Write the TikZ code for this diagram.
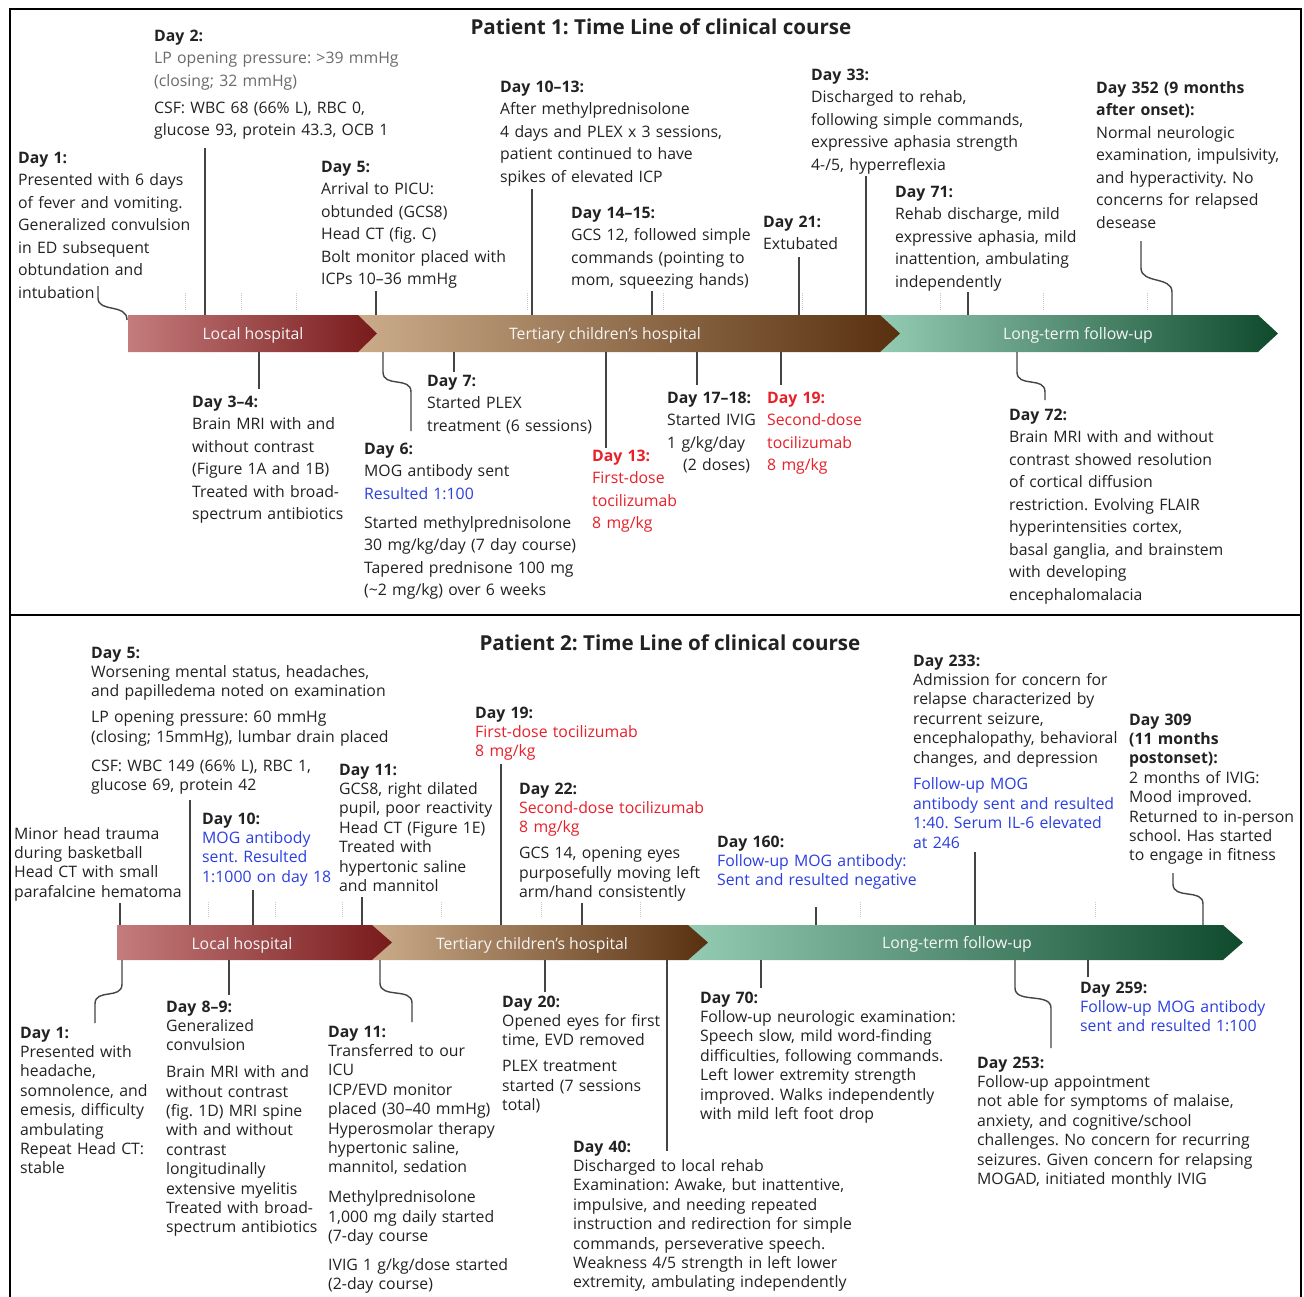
\documentclass[tikz,border=0pt]{standalone}
\usepackage{fontspec}
\setmainfont{Open Sans}
\definecolor{tx}{HTML}{222222}
\definecolor{gr}{HTML}{6B6B6B}
\definecolor{rd}{HTML}{E8202A}
\definecolor{bl}{HTML}{2B3FE0}
\definecolor{ln}{HTML}{444444}
\definecolor{redA}{HTML}{C47C7C}
\definecolor{redB}{HTML}{781A1C}
\definecolor{tanA}{HTML}{CBAC8A}
\definecolor{tanB}{HTML}{583010}
\definecolor{grnA}{HTML}{93CBB3}
\definecolor{grnB}{HTML}{0F4A2D}
\frenchspacing
\begin{document}
\begin{tikzpicture}[x=1pt,y=-1pt,
  pa/.style={anchor=base west, inner sep=0pt, text width=330pt, align=left, text=tx, font=\fontsize{15.8}{22.5}\selectfont},
  pb/.style={anchor=base west, inner sep=0pt, text width=330pt, align=left, text=tx, font=\fontsize{15.8}{19.4}\selectfont},
  conn/.style={draw=ln, line width=1.4pt},
  tick/.style={draw=gray!45, densely dotted, line width=1pt},
  barlab/.style={anchor=base, inner sep=0pt, text=white!93!gray, font=\fontsize{15.8}{19}\selectfont},
  ttl/.style={anchor=base, inner sep=0pt, text=tx, font=\fontsize{20.6}{25}\selectfont\bfseries}]
\useasboundingbox (0,0) rectangle (1304,1296);
\fill[white] (0,0) rectangle (1304,1296);
% frames
\draw[line width=2.5pt] (10,9) rectangle (1301,1302);
\draw[line width=2.5pt] (10,615) -- (1301,615);
\node[ttl] (t1) at (661,34) {Patient 1: Time Line of clinical course};
\node[ttl] (t2) at (670,650) {Patient 2: Time Line of clinical course};
% ---------------- Patient 1 bar
\coordinate (P1T) at (0,315);
\coordinate (P1B) at (0,352);
\shade[left color=grnA, right color=grnB] (880,315) -- (1258,315) -- (1278,333.5) -- (1258,352) -- (880,352) -- cycle;
\shade[left color=tanA, right color=tanB] (357,315) -- (880,315) -- (900,333.5) -- (880,352) -- (357,352) -- cycle;
\shade[left color=redA, right color=redB] (128,315) -- (358,315) -- (377,333.5) -- (358,352) -- (128,352) -- cycle;
\node[barlab] (b1a) at (253,339) {Local hospital};
\node[barlab] (b1b) at (605,339) {Tertiary children’s hospital};
\node[barlab] (b1c) at (1078,339) {Long-term follow-up};
\foreach \x in {185,241,296,527,663,802,940,1043,1147} \draw[tick] (\x,293) -- (\x,310);
% ---------------- Patient 2 bar
\coordinate (P2T) at (0,925);
\coordinate (P2B) at (0,960);
\shade[left color=grnA, right color=grnB] (688,925) -- (1223,925) -- (1243,942.5) -- (1223,960) -- (688,960) -- cycle;
\shade[left color=tanA, right color=tanB] (372,925) -- (688,925) -- (708,942.5) -- (688,960) -- (372,960) -- cycle;
\shade[left color=redA, right color=redB] (117,925) -- (372,925) -- (392,942.5) -- (372,960) -- (117,960) -- cycle;
\node[barlab] (b2a) at (242,949) {Local hospital};
\node[barlab] (b2b) at (532,949) {Tertiary children’s hospital};
\node[barlab] (b2c) at (957,948) {Long-term follow-up};
\foreach \x in {208,275,342,441,541,640,860,1095} \draw[tick] (\x,902) -- (\x,918);
% ---------------- Patient 1 texts
\node[pa] (d1) at (18,163) {\textbf{Day 1:}\\Presented with 6 days\\of fever and vomiting.\\Generalized convulsion\\in ED subsequent\\obtundation and\\intubation};
\node[pa] (d2) at (154,41) {\textbf{Day 2:}\\{\color{gr}LP opening pressure: >39 mmHg\\(closing; 32 mmHg)}\\[4.5pt]CSF: WBC 68 (66\% L), RBC 0,\\glucose 93, protein 43.3, OCB 1};
\node[pa] (d34) at (192,407) {\textbf{Day 3–4:}\\Brain MRI with and\\without contrast\\(Figure 1A and 1B)\\Treated with broad-\\spectrum antibiotics};
\node[pa] (d5) at (321,172) {\textbf{Day 5:}\\Arrival to PICU:\\obtunded (GCS8)\\Head CT (fig. C)\\Bolt monitor placed with\\ICPs 10–36 mmHg};
\node[pa] (d6) at (364,454) {\textbf{Day 6:}\\MOG antibody sent\\{\color{bl}Resulted 1:100}\\[6.5pt]Started methylprednisolone\\30 mg/kg/day (7 day course)\\Tapered prednisone 100 mg\\(\textasciitilde2 mg/kg) over 6 weeks};
\node[pa] (d7) at (427,386) {\textbf{Day 7:}\\Started PLEX\\treatment (6 sessions)};
\node[pa] (d1013) at (500,92) {\textbf{Day 10–13:}\\After methylprednisolone\\4 days and PLEX x 3 sessions,\\patient continued to have\\spikes of elevated ICP};
\node[pa,text=rd] (d13) at (592,461) {\textbf{Day 13:}\\First-dose\\tocilizumab\\8 mg/kg};
\node[pa] (d1415) at (571,218) {\textbf{Day 14–15:}\\GCS 12, followed simple\\commands (pointing to\\mom, squeezing hands)};
\node[pa] (d1718) at (667,403) {\textbf{Day 17–18:}\\Started IVIG\\1 g/kg/day\\\hspace*{16pt}(2 doses)};
\node[pa,text=rd] (d19) at (767,403) {\textbf{Day 19:}\\Second-dose\\tocilizumab\\8 mg/kg};
\node[pa] (d21) at (763,227) {\textbf{Day 21:}\\Extubated};
\node[pa] (d33) at (811,80) {\textbf{Day 33:}\\Discharged to rehab,\\following simple commands,\\expressive aphasia strength\\4-/5, hyperreflexia};
\node[pa] (d71) at (895,197) {\textbf{Day 71:}\\Rehab discharge, mild\\expressive aphasia, mild\\inattention, ambulating\\independently};
\node[pa,text width=205pt] (d352) at (1096,93) {\textbf{Day 352 (9 months}\\\textbf{after onset):}\\Normal neurologic\\examination, impulsivity,\\and hyperactivity. No\\concerns for relapsed\\desease};
\node[pa,text width=292pt] (d72) at (1009,420) {\textbf{Day 72:}\\Brain MRI with and without\\contrast showed resolution\\of cortical diffusion\\restriction. Evolving FLAIR\\hyperintensities cortex,\\basal ganglia, and brainstem\\with developing\\encephalomalacia};
% ---------------- Patient 1 connectors
\draw[conn] (98,286) -- (98,298) .. controls (98,313) and (127,303) .. (127,320);
\draw[conn] (205,148) -- (205,0 |- P1T);
\draw[conn] (376,291) -- (376,0 |- P1T);
\draw[conn] (532,189) -- (532,0 |- P1T);
\draw[conn] (652,291) -- (652,0 |- P1T);
\draw[conn] (799,257) -- (799,0 |- P1T);
\draw[conn] (866,176) -- (866,0 |- P1T);
\draw[conn] (968,292) -- (968,0 |- P1T);
\draw[conn] (1141,241) -- (1141,268) .. controls (1141,284) and (1172,276) .. (1172,292) -- (1172,0 |- P1T);
\draw[conn] (259,0 |- P1B) -- (259,389);
\draw[conn] (383,0 |- P1B) -- (383,372) .. controls (383,388) and (411,376) .. (411,392) -- (411,431);
\draw[conn] (454,0 |- P1B) -- (454,372);
\draw[conn] (606,0 |- P1B) -- (606,448);
\draw[conn] (697,0 |- P1B) -- (697,385);
\draw[conn] (781,0 |- P1B) -- (781,385);
\draw[conn] (1017,0 |- P1B) -- (1017,372) .. controls (1017,388) and (1045,376) .. (1045,392) -- (1045,400);
% ---------------- Patient 2 texts
\node[pb] (e5) at (91,658) {\textbf{Day 5:}\\Worsening mental status, headaches,\\and papilledema noted on examination\\[6.5pt]LP opening pressure: 60 mmHg\\(closing; 15mmHg), lumbar drain placed\\[9.5pt]CSF: WBC 149 (66\% L), RBC 1,\\glucose 69, protein 42};
\node[pb] (emh) at (14,839) {Minor head trauma\\during basketball\\Head CT with small\\parafalcine hematoma};
\node[pb] (e10) at (202,824) {\textbf{Day 10:}\\{\color{bl}MOG antibody\\sent. Resulted\\1:1000 on day 18}};
\node[pb] (e11t) at (339,775) {\textbf{Day 11:}\\GCS8, right dilated\\pupil, poor reactivity\\Head CT (Figure 1E)\\Treated with\\hypertonic saline\\and mannitol};
\node[pb] (e19) at (475,718) {\textbf{Day 19:}\\{\color{rd}First-dose tocilizumab\\8 mg/kg}};
\node[pb] (e22) at (519,794) {\textbf{Day 22:}\\{\color{rd}Second-dose tocilizumab\\8 mg/kg}\\[6.5pt]GCS 14, opening eyes\\purposefully moving left\\arm/hand consistently};
\node[pb] (e160) at (717,847) {\textbf{Day 160:}\\{\color{bl}Follow-up MOG antibody:\\Sent and resulted negative}};
\node[pb] (e233) at (913,666) {\textbf{Day 233:}\\Admission for concern for\\relapse characterized by\\recurrent seizure,\\encephalopathy, behavioral\\changes, and depression\\[7.5pt]{\color{bl}Follow-up MOG\\antibody sent and resulted\\1:40. Serum IL-6 elevated\\at 246}};
\node[pb,text width=172pt] (e309) at (1129,725) {\textbf{Day 309}\\\textbf{(11 months}\\\textbf{postonset):}\\2 months of IVIG:\\Mood improved.\\Returned to in-person\\school. Has started\\to engage in fitness};
\node[pb] (e1) at (20,1038) {\textbf{Day 1:}\\Presented with\\headache,\\somnolence, and\\emesis, difficulty\\ambulating\\Repeat Head CT:\\stable};
\node[pb] (e89) at (166,1012) {\textbf{Day 8–9:}\\Generalized\\convulsion\\[7.5pt]Brain MRI with and\\without contrast\\(fig. 1D) MRI spine\\with and without\\contrast\\longitudinally\\extensive myelitis\\Treated with broad-\\spectrum antibiotics};
\node[pb] (e11b) at (328,1037) {\textbf{Day 11:}\\Transferred to our\\ICU\\ICP/EVD monitor\\placed (30–40 mmHg)\\Hyperosmolar therapy\\hypertonic saline,\\mannitol, sedation\\[10.5pt]Methylprednisolone\\1,000 mg daily started\\(7-day course\\[9.5pt]IVIG 1 g/kg/dose started\\(2-day course)};
\node[pb] (e20) at (502,1007) {\textbf{Day 20:}\\Opened eyes for first\\time, EVD removed\\[6.5pt]PLEX treatment\\started (7 sessions\\total)};
\node[pb] (e40) at (573,1152) {\textbf{Day 40:}\\Discharged to local rehab\\Examination: Awake, but inattentive,\\impulsive, and needing repeated\\instruction and redirection for simple\\commands, perseverative speech.\\Weakness 4/5 strength in left lower\\extremity, ambulating independently};
\node[pb] (e70) at (700,1003) {\textbf{Day 70:}\\Follow-up neurologic examination:\\Speech slow, mild word-finding\\difficulties, following commands.\\Left lower extremity strength\\improved. Walks independently\\with mild left foot drop};
\node[pb,text width=320pt] (e253) at (977,1068) {\textbf{Day 253:}\\Follow-up appointment\\not able for symptoms of malaise,\\anxiety, and cognitive/school\\challenges. No concern for recurring\\seizures. Given concern for relapsing\\MOGAD, initiated monthly IVIG};
\node[pb,text width=218pt] (e259) at (1080,993) {\textbf{Day 259:}\\{\color{bl}Follow-up MOG antibody\\sent and resulted 1:100}};
% ---------------- Patient 2 connectors
\draw[conn] (120,903) -- (120,0 |- P2T);
\draw[conn] (190,800) -- (190,0 |- P2T);
\draw[conn] (253,890) -- (253,0 |- P2T);
\draw[conn] (362,897) -- (362,0 |- P2T);
\draw[conn] (501,764) -- (501,0 |- P2T);
\draw[conn] (582,903) -- (582,0 |- P2T);
\draw[conn] (816,907) -- (816,0 |- P2T);
\draw[conn] (975,852) -- (975,0 |- P2T);
\draw[conn] (1173,873) -- (1173,884) .. controls (1173,900) and (1203,888) .. (1203,904) -- (1203,0 |- P2T);
\draw[conn] (122,0 |- P2B) -- (122,984) .. controls (122,1000) and (95,988) .. (95,1004) -- (95,1023);
\draw[conn] (229,0 |- P2B) -- (229,995);
\draw[conn] (380,0 |- P2B) -- (380,983) .. controls (380,999) and (412,987) .. (412,1003) -- (412,1022);
\draw[conn] (545,0 |- P2B) -- (545,992);
\draw[conn] (667,0 |- P2B) -- (667,1151);
\draw[conn] (761,0 |- P2B) -- (761,988);
\draw[conn] (1015,0 |- P2B) -- (1015,988) .. controls (1015,1004) and (1051,992) .. (1051,1008) -- (1051,1048);
\draw[conn] (1088,0 |- P2B) -- (1088,977);
\end{tikzpicture}
\end{document}
